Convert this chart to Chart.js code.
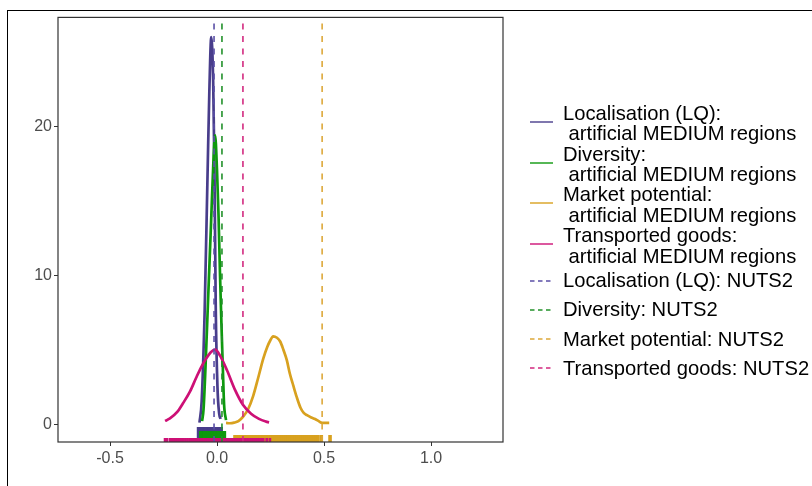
<!DOCTYPE html>
<html>
<head>
<meta charset="utf-8">
<script src="https://cdn.jsdelivr.net/npm/chart.js@4.4.0/dist/chart.umd.min.js"></script>
<style>
  body { margin: 0; background: #fff; overflow: hidden; }
  #wrap { position: relative; width: 812px; height: 486px; overflow: hidden; }
  #frame { position: absolute; left: 7px; top: 10px; width: 900px; height: 600px;
           border-left: 1.5px solid #000; border-top: 1.5px solid #000; }
  #densityChart { position: absolute; left: 0; top: 0; }
  #legend { position: absolute; left: 0; top: 0; width: 812px; height: 486px;
            font-family: "Liberation Sans", Arial, sans-serif; font-size: 20.2px; color: #000; }
  .lab { position: absolute; left: 563px; line-height: 20.5px; white-space: pre; }
  .key { position: absolute; left: 530px; }
</style>
</head>
<body>
<div id="wrap">
  <div id="frame"></div>
  <canvas id="densityChart" width="812" height="486"></canvas>
  <div id="legend"></div>
</div>
<script>
// indicator names and colours
const seriesNames = ["Localisation (LQ)", "Diversity", "Market potential", "Transported goods"];
const seriesColors = ["#483D8B", "#0E990E", "#D8A11F", "#CD1076"];
const dashColors = ["#5A4FA6", "#22912A", "#DDA83A", "#D2297F"];

// observed NUTS2 values (dashed reference lines)
const nuts2Values = [-0.014, 0.023, 0.491, 0.121];

// density estimates for the artificial MEDIUM regions
const lqX = [-0.082, -0.072, -0.058, -0.044, -0.036, -0.027, -0.018, -0.012, -0.006, 0.002, 0.010, 0.017];
const lqY = [0.1, 1.5, 7.5, 17.0, 22.3, 26.0, 23.0, 17.0, 7.8, 2.5, 0.7, 0.35];

const divX = [-0.070, -0.063, -0.054, -0.042, -0.028, -0.016, -0.009, 0.000, 0.007, 0.014, 0.021, 0.027, 0.033, 0.042];
const divY = [0.2, 1.0, 3.8, 8.3, 13.5, 18.0, 19.4, 17.0, 14.0, 10.0, 6.5, 3.8, 1.3, 0.27];

const mpX = [0.042, 0.060, 0.080, 0.100, 0.122, 0.145, 0.169, 0.192, 0.216, 0.235, 0.248, 0.262,
             0.280, 0.295, 0.310, 0.326, 0.340, 0.356, 0.372, 0.390, 0.405, 0.420, 0.440, 0.458, 0.475, 0.491, 0.524];
const mpY = [0.08, 0.06, 0.1, 0.2, 0.5, 1.0, 1.9, 3.1, 4.4, 5.2, 5.6, 5.9,
             5.8, 5.55, 5.0, 4.3, 3.4, 2.6, 1.83, 1.1, 0.75, 0.6, 0.45, 0.34, 0.2, 0.09, 0.09];

const tgX = [-0.243, -0.220, -0.187, -0.159, -0.126, -0.098, -0.075, -0.051, -0.028, -0.009,
             0.014, 0.047, 0.084, 0.121, 0.159, 0.196, 0.229, 0.243];
const tgY = [0.22, 0.38, 0.8, 1.4, 2.2, 3.1, 3.8, 4.4, 4.85, 5.0,
             4.6, 3.6, 2.3, 1.3, 0.7, 0.35, 0.17, 0.12];

// individual observations shown as rug marks
const lqRug = [-0.089, -0.085, -0.081, -0.078, -0.074, -0.070, -0.066, -0.063, -0.059, -0.056, -0.052, -0.048,
               -0.045, -0.041, -0.038, -0.034, -0.031, -0.027, -0.024, -0.020, -0.017, -0.013, -0.010, -0.006,
               -0.002, 0.002, 0.006, 0.010, 0.014, 0.018, 0.022];
const divRug = [-0.079, -0.075, -0.071, -0.067, -0.063, -0.060, -0.055, -0.052, -0.048, -0.044, -0.040, -0.036,
                -0.033, -0.029, -0.025, -0.021, -0.018, -0.014, -0.010, -0.006, -0.003, 0.001, 0.005, 0.009,
                0.013, 0.017, 0.021, 0.025, 0.029, 0.033, 0.037];
const mpRug = [0.084, 0.093, 0.103, 0.112, 0.124, 0.133, 0.142, 0.154, 0.163, 0.172, 0.183, 0.193, 0.202,
               0.214, 0.223, 0.232, 0.244, 0.253, 0.263, 0.274, 0.283, 0.292, 0.304, 0.313, 0.322, 0.334,
               0.343, 0.352, 0.364, 0.373, 0.383, 0.394, 0.403, 0.412, 0.424, 0.433, 0.442, 0.454, 0.463,
               0.471, 0.487, 0.528];
const tgRug = [-0.243, -0.233, -0.219, -0.209, -0.200, -0.191, -0.182, -0.173, -0.164, -0.156, -0.147, -0.138,
               -0.129, -0.121, -0.112, -0.103, -0.095, -0.086, -0.077, -0.069, -0.060, -0.051, -0.043, -0.034,
               -0.026, -0.017, -0.008, 0.000, 0.009, 0.018, 0.026, 0.035, 0.043, 0.052, 0.061, 0.069, 0.078,
               0.087, 0.095, 0.104, 0.113, 0.121, 0.130, 0.139, 0.147, 0.156, 0.164, 0.173, 0.182, 0.190,
               0.199, 0.208, 0.216, 0.232, 0.247];

// axes
const xTicks = [-0.5, 0, 0.5, 1];
const yTicks = [0, 10, 20];
const xRange = [-0.743, 1.336];
const yRange = [-1.2, 27.32];

const fontFamily = '"Liberation Sans", Arial, sans-serif';

function toPoints(xs, ys) {
  return xs.map((x, i) => ({ x: x, y: ys[i] }));
}

const densities = [[lqX, lqY], [divX, divY], [mpX, mpY], [tgX, tgY]];
const rugs = [lqRug, divRug, mpRug, tgRug];
const rugLength = [15, 11, 7, 4];
const rugWidth = [2.4, 2.4, 3.6, 2.6];

const datasets = [];

// dashed NUTS2 lines on top
nuts2Values.forEach((v, i) => {
  datasets.push({
    data: [{ x: v, y: yRange[0] }, { x: v, y: yRange[1] }],
    showLine: true,
    borderColor: dashColors[i],
    borderWidth: 1.6,
    borderDash: [6, 6.5],
    pointRadius: 0,
    clip: 0,
    order: 1
  });
});

// density curves, later series drawn above earlier ones
densities.forEach((d, i) => {
  datasets.push({
    data: toPoints(d[0], d[1]),
    showLine: true,
    borderColor: seriesColors[i],
    borderWidth: 2.7,
    cubicInterpolationMode: 'monotone',
    pointRadius: 0,
    clip: 0,
    order: 5 - i
  });
});

// rug marks along the bottom of the panel
rugs.forEach((r, i) => {
  datasets.push({
    data: r.map(x => ({ x: x, y: yRange[0] })),
    showLine: false,
    pointStyle: 'line',
    pointRotation: 90,
    pointRadius: rugLength[i],
    pointBorderWidth: rugWidth[i],
    pointBorderColor: seriesColors[i],
    pointBackgroundColor: seriesColors[i],
    clip: 0,
    order: 9 - i
  });
});

const panelBorder = {
  id: 'panelBorder',
  afterDatasetsDraw(chart) {
    const { ctx, chartArea: a } = chart;
    ctx.save();
    ctx.strokeStyle = '#333333';
    ctx.lineWidth = 1.2;
    ctx.strokeRect(a.left, a.top, a.right - a.left, a.bottom - a.top);
    ctx.restore();
  }
};

const ctx = document.getElementById('densityChart').getContext('2d');
new Chart(ctx, {
  type: 'scatter',
  data: { datasets: datasets },
  options: {
    responsive: false,
    animation: false,
    layout: { padding: { top: 17, right: 309, bottom: 0, left: 0 } },
    plugins: { legend: { display: false }, tooltip: { enabled: false } },
    scales: {
      x: {
        type: 'linear',
        min: xRange[0],
        max: xRange[1],
        afterBuildTicks: s => { s.ticks = xTicks.map(v => ({ value: v })); },
        afterFit: s => { s.height = 44; },
        border: { display: false },
        grid: { drawOnChartArea: false, drawTicks: true, tickLength: 4, color: '#333333' },
        ticks: {
          color: '#4D4D4D',
          font: { family: fontFamily, size: 16 },
          padding: 3,
          maxRotation: 0,
          autoSkip: false,
          callback: v => Number(v).toFixed(1)
        }
      },
      y: {
        type: 'linear',
        min: yRange[0],
        max: yRange[1],
        afterBuildTicks: s => { s.ticks = yTicks.map(v => ({ value: v })); },
        afterFit: s => { s.width = 58; },
        border: { display: false },
        grid: { drawOnChartArea: false, drawTicks: true, tickLength: 4, color: '#333333' },
        ticks: {
          color: '#4D4D4D',
          font: { family: fontFamily, size: 16 },
          padding: 2,
          autoSkip: false,
          callback: v => String(v)
        }
      }
    }
  },
  plugins: [panelBorder]
});

// legend built from the same names and colours
const legendBox = document.getElementById('legend');
const svgNS = 'http://www.w3.org/2000/svg';

function addKey(y, color, dashed) {
  const svg = document.createElementNS(svgNS, 'svg');
  svg.setAttribute('class', 'key');
  svg.setAttribute('width', '24');
  svg.setAttribute('height', '6');
  svg.style.top = (y - 3) + 'px';
  const line = document.createElementNS(svgNS, 'line');
  line.setAttribute('x1', '0');
  line.setAttribute('x2', '23');
  line.setAttribute('y1', '3');
  line.setAttribute('y2', '3');
  line.setAttribute('stroke', color);
  line.setAttribute('stroke-width', '1.4');
  if (dashed) line.setAttribute('stroke-dasharray', '4.5 3.5');
  svg.appendChild(line);
  legendBox.appendChild(svg);
}

function addLabel(top, text) {
  const div = document.createElement('div');
  div.className = 'lab';
  div.style.top = top + 'px';
  div.textContent = text;
  legendBox.appendChild(div);
}

seriesNames.forEach((name, i) => {
  addKey(121.7 + 40.8 * i, seriesColors[i], false);
  addLabel(102.8 + 40.8 * i, name + ':\n artificial MEDIUM regions');
});
seriesNames.forEach((name, i) => {
  addKey(280.8 + 29.2 * i, dashColors[i], true);
  addLabel(270.1 + 29.2 * i, name + ': NUTS2');
});
</script>
</body>
</html>
